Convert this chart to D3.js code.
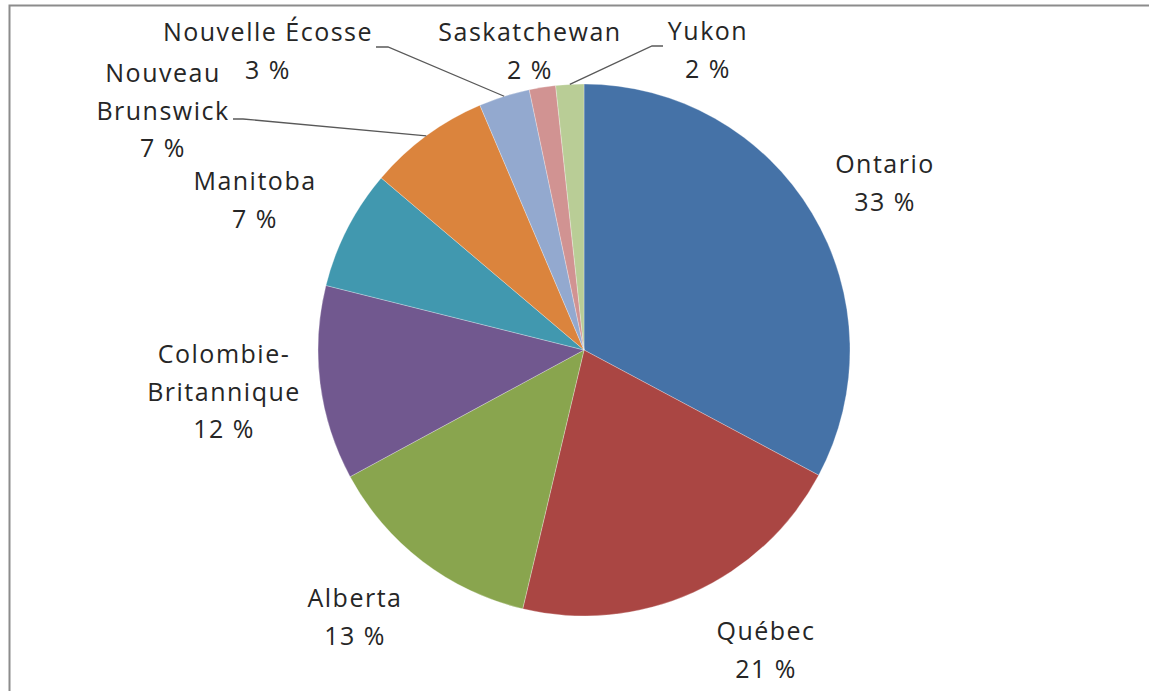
<!DOCTYPE html>
<html>
<head>
<meta charset="utf-8">
<script src="https://cdn.jsdelivr.net/npm/d3@7"></script>
<style>
  body { margin: 0; background: #fff; }
  text { font-family: "Open Sans", sans-serif; font-size: 25px; fill: #262626; letter-spacing: 1.5px; }
</style>
</head>
<body>
<div id="chart"></div>
<script>
// Data: share of total by province (clockwise from 12 o'clock)
const provinces = ["Ontario", "Québec", "Alberta", "Colombie-Britannique", "Manitoba",
  "Nouveau Brunswick", "Nouvelle Écosse", "Saskatchewan", "Yukon"];
const shares = [32.8, 20.9, 13.4, 11.8, 7.3, 7.4, 3.1, 1.6, 1.7];
const pctLabels = ["33 %", "21 %", "13 %", "12 %", "7 %", "7 %", "3 %", "2 %", "2 %"];
const nameLines = [["Ontario"], ["Québec"], ["Alberta"], ["Colombie-", "Britannique"], ["Manitoba"],
  ["Nouveau", "Brunswick"], ["Nouvelle Écosse"], ["Saskatchewan"], ["Yukon"]];
const colors = ["#4572A7", "#AA4643", "#89A54E", "#71588F", "#4198AF",
  "#DB843D", "#93A9CF", "#D19392", "#B9CD96"];

// Layout of the label blocks (centre x, first baseline y) and leader starts
const labelPos = [[885, 173], [766, 640], [355, 607], [224, 363], [255, 190],
  [163, 82], [268, 41], [530, 41], [708, 40]];
const leaders = { 5: [[233, 119], [243, 119]], 6: [[376, 47], [388, 47]], 8: [[663, 46], [652, 46]] };

let width = 1149, height = 691;
let cx = 584, cy = 350, radius = 266;
let lineH = 37.5;

let svg = d3.select("#chart").append("svg")
  .attr("width", width)
  .attr("height", height);

// Chart frame (only top and left edges visible)
svg.append("rect")
  .attr("x", 9.5).attr("y", 5.5)
  .attr("width", 1200).attr("height", 800)
  .attr("fill", "none")
  .attr("stroke", "#8c8c8c")
  .attr("stroke-width", 2);

let pie = d3.pie().sort(null).value(function (d) { return d; });
let arcs = pie(shares);
let arc = d3.arc().innerRadius(0).outerRadius(radius);

let g = svg.append("g").attr("transform", "translate(" + cx + "," + cy + ")");

g.selectAll("path")
  .data(arcs)
  .enter()
  .append("path")
  .attr("d", arc)
  .attr("fill", function (d, i) { return colors[i]; })
  .attr("stroke", "rgba(255,255,255,0.35)")
  .attr("stroke-width", 0.8);

// Leader lines from label to slice edge
Object.keys(leaders).forEach(function (k) {
  let a = arcs[+k];
  let mid = (a.startAngle + a.endAngle) / 2;
  let end = [cx + radius * Math.sin(mid), cy - radius * Math.cos(mid)];
  let pts = leaders[k].concat([end]);
  svg.append("path")
    .attr("d", d3.line()(pts))
    .attr("fill", "none")
    .attr("stroke", "#595959")
    .attr("stroke-width", 1.3);
});

// Labels
let labels = svg.selectAll(".lbl")
  .data(provinces)
  .enter()
  .append("text")
  .attr("class", "lbl")
  .attr("text-anchor", "middle");

labels.each(function (d, i) {
  let t = d3.select(this);
  let lines = nameLines[i].concat([pctLabels[i]]);
  lines.forEach(function (s, j) {
    t.append("tspan")
      .attr("x", labelPos[i][0])
      .attr("y", labelPos[i][1] + j * lineH)
      .text(s);
  });
});
</script>
</body>
</html>
